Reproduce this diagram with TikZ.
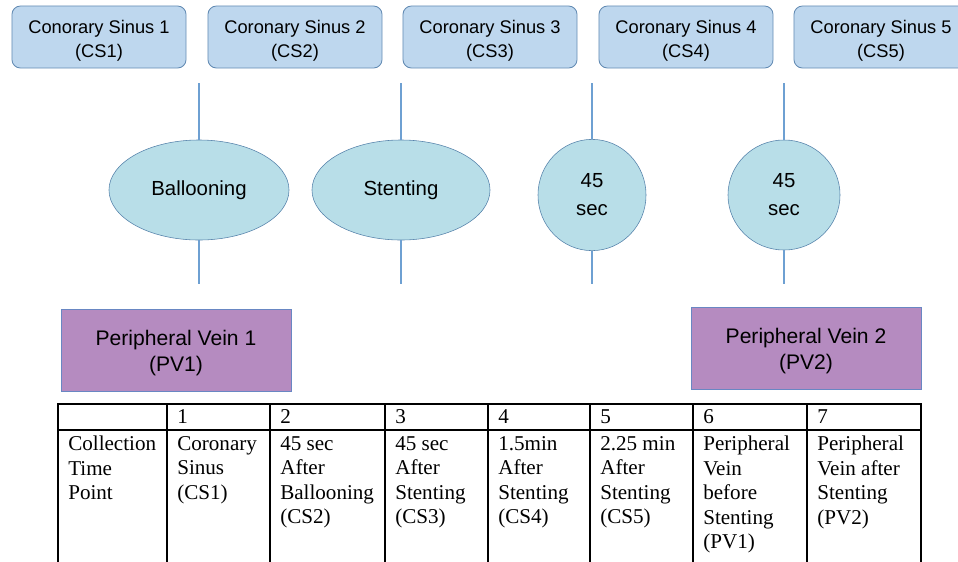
\documentclass[tikz,border=0pt]{standalone}
\usepackage{fontspec}
\setmainfont{Liberation Serif}
\setsansfont{Liberation Sans}
\usetikzlibrary{shapes.geometric}

\definecolor{csfill}{RGB}{190,215,238}
\definecolor{csdraw}{RGB}{100,140,180}
\definecolor{elfill}{RGB}{184,222,232}
\definecolor{eldraw}{RGB}{85,130,170}
\definecolor{pvfill}{RGB}{181,139,192}
\definecolor{pvdraw}{RGB}{105,135,195}
\definecolor{tickcol}{RGB}{110,160,210}

% strut that pushes a two-line label down a little
\newcommand{\lowstrut}{\rule{0pt}{15pt}}

\begin{document}
\begin{tikzpicture}[x=0.025cm, y=-0.025cm,
  csbox/.style={draw=csdraw, fill=csfill, rounded corners=6pt, minimum width=4.35cm,
    minimum height=1.55cm, align=center, inner sep=0pt, line width=0.6pt,
    font=\sffamily\fontsize{13}{17}\selectfont},
  event/.style={ellipse, draw=eldraw, fill=elfill, inner sep=0pt, align=center,
    font=\sffamily\fontsize{14.5}{20}\selectfont},
  pvbox/.style={draw=pvdraw, fill=pvfill, minimum width=5.75cm, minimum height=2.05cm,
    align=center, inner sep=0pt, font=\sffamily\fontsize{15}{18.5}\selectfont},
  tick/.style={draw=tickcol, line width=0.8pt},
  tbl/.style={line width=1.4pt},
  cell/.style={anchor=north west, inner sep=0pt, align=left,
    font=\rmfamily\fontsize{15}{17.4}\selectfont},
  num/.style={anchor=base west, inner sep=0pt, font=\rmfamily\fontsize{15}{17}\selectfont}]

\useasboundingbox (0,0) rectangle (958,561);

% Sampling boxes
\node [csbox] (cs1) at ( 99,37) {\lowstrut Conorary Sinus 1\\(CS1)};
\node [csbox] (cs2) at (295,37) {\lowstrut Coronary Sinus 2\\(CS2)};
\node [csbox] (cs3) at (490,37) {\lowstrut Coronary Sinus 3\\(CS3)};
\node [csbox] (cs4) at (686,37) {\lowstrut Coronary Sinus 4\\(CS4)};
\node [csbox] (cs5) at (881,37) {\lowstrut Coronary Sinus 5\\(CS5)};

% Events
\node [event, minimum width=4.5cm,  minimum height=2.5cm]  (ball)  at (199,190) {Ballooning};
\node [event, minimum width=4.45cm, minimum height=2.5cm]  (stent) at (401,190) {Stenting};
\node [event, minimum width=2.7cm,  minimum height=2.78cm] (secA)  at (592,195) {45\\sec};
\node [event, minimum width=2.8cm,  minimum height=2.75cm] (secB)  at (784,195) {45\\sec};

\coordinate (t1) at (199,83);  \coordinate (b1) at (199,284);
\coordinate (t2) at (401,83);  \coordinate (b2) at (401,284);
\coordinate (t3) at (592,83);  \coordinate (b3) at (592,284);
\coordinate (t4) at (784,83);  \coordinate (b4) at (784,284);

\draw [tick] (t1) -- (ball);  \draw [tick] (ball) -- (b1);
\draw [tick] (t2) -- (stent); \draw [tick] (stent) -- (b2);
\draw [tick] (t3) -- (secA);  \draw [tick] (secA) -- (b3);
\draw [tick] (t4) -- (secB);  \draw [tick] (secB) -- (b4);

% Peripheral vein boxes
\node [pvbox] (pv1) at (176,350) {\lowstrut Peripheral Vein 1\\(PV1)};
\node [pvbox] (pv2) at (806,348) {\lowstrut Peripheral Vein 2\\(PV2)};

% -------- Table -----------
\draw [tbl] (58,404) rectangle (921,575);
\draw [tbl] (58,430) -- (921,430);
\foreach \x in {167,270,385,488,590,693,807}
  \draw [tbl] (\x,404) -- (\x,575);

\node [num] (n1) at (177,423) {1};
\node [num] (n2) at (280,423) {2};
\node [num] (n3) at (395,423) {3};
\node [num] (n4) at (498,423) {4};
\node [num] (n5) at (600,423) {5};
\node [num] (n6) at (703,423) {6};
\node [num] (n7) at (817,423) {7};

\node [cell] (c0) at ( 68,436) {Collection\\Time\\Point};
\node [cell] (c1) at (177,436) {Coronary\\Sinus\\(CS1)};
\node [cell] (c2) at (280,436) {45 sec\\After\\Ballooning\\(CS2)};
\node [cell] (c3) at (395,436) {45 sec\\After\\Stenting\\(CS3)};
\node [cell] (c4) at (498,436) {1.5min\\After\\Stenting\\(CS4)};
\node [cell] (c5) at (600,436) {2.25 min\\After\\Stenting\\(CS5)};
\node [cell] (c6) at (703,436) {Peripheral\\Vein\\before\\Stenting\\(PV1)};
\node [cell] (c7) at (817,436) {Peripheral\\Vein after\\Stenting\\(PV2)};

\end{tikzpicture}
\end{document}
